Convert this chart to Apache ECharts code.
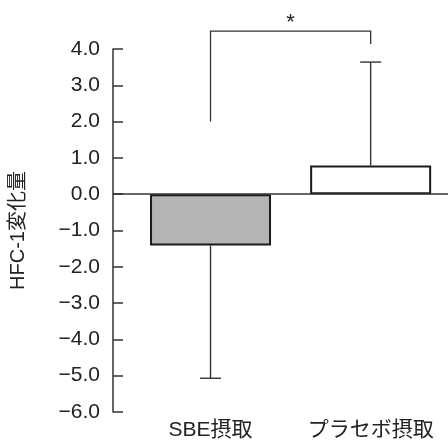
<!DOCTYPE html>
<html>
<head>
<meta charset="utf-8">
<script src="https://cdn.jsdelivr.net/npm/echarts@6/dist/echarts.min.js"></script>
<style>
html,body{margin:0;padding:0;background:#fff;}
#chart{width:448px;height:441px;}
</style>
</head>
<body>
<div id="chart"></div>
<script>
// ---- data ----
var categories = ['SBE摂取', 'プラセボ摂取'];
var categoryPos = [1, 2];
var means = [-1.41, 0.79];
var errorEnds = [-5.07, 3.64];
var barColors = ['#b4b4b4', '#ffffff'];
// significance bracket: [left foot, top, right foot]
var bracketLevels = [2.0, 4.49, 4.14];
var sigLabel = '*';
var sigLabelLevel = 4.72;
var yName = 'HFC-1変化量';

var FONT = '"Liberation Sans", "Noto Sans CJK JP", sans-serif';
var INK = '#222';

var chart = echarts.init(document.getElementById('chart'), null, {renderer: 'canvas'});

var barData = categoryPos.map(function (x, i) {
  return {value: [x, means[i]], itemStyle: {color: barColors[i]}};
});
var errData = categoryPos.map(function (x, i) { return [x, means[i], errorEnds[i]]; });

var option = {
  animation: false,
  backgroundColor: '#fff',
  grid: {left: 108, right: 0, top: 49, bottom: 28, containLabel: false},
  xAxis: {
    type: 'value',
    min: 0.391,
    max: 2.483,
    position: 'bottom',
    axisLine: {show: false, onZero: false},
    axisTick: {show: false},
    splitLine: {show: false},
    axisLabel: {
      customValues: categoryPos,
      formatter: function (v) {
        var i = categoryPos.indexOf(Math.round(v));
        return i >= 0 ? categories[i] : '';
      },
      fontFamily: FONT, fontSize: 21, color: INK, margin: 8
    }
  },
  yAxis: {
    type: 'value',
    min: -6, max: 4, interval: 1,
    name: yName,
    nameLocation: 'middle',
    nameRotate: 90,
    nameGap: 85,
    nameTextStyle: {fontFamily: FONT, fontSize: 20, color: INK},
    axisLine: {show: true, lineStyle: {color: '#333', width: 1.5}},
    axisTick: {show: true, inside: true, length: 10, lineStyle: {color: '#333', width: 1.5}},
    splitLine: {show: false},
    axisLabel: {
      fontFamily: FONT, fontSize: 21, color: INK, margin: 13,
      formatter: function (v) { return (v < 0 ? '\u2212' : '') + Math.abs(v).toFixed(1); }
    }
  },
  series: [
    {
      type: 'bar',
      data: barData,
      barWidth: 121,
      itemStyle: {borderColor: '#1a1a1a', borderWidth: 2},
      markLine: {
        silent: true,
        symbol: ['none', 'none'],
        label: {show: false},
        lineStyle: {color: '#333', width: 1.5, type: 'solid'},
        data: [{yAxis: 0}]
      }
    },
    {
      type: 'custom',
      data: errData,
      z: 3,
      renderItem: function (params, api) {
        var x = api.value(0);
        var p0 = api.coord([x, api.value(1)]);
        var p1 = api.coord([x, api.value(2)]);
        var cap = 10.5;
        var st = {stroke: '#333', lineWidth: 1.4};
        return {type: 'group', children: [
          {type: 'line', shape: {x1: p0[0], y1: p0[1], x2: p1[0], y2: p1[1]}, style: st},
          {type: 'line', shape: {x1: p1[0] - cap, y1: p1[1], x2: p1[0] + cap, y2: p1[1]}, style: st}
        ]};
      }
    },
    {
      type: 'custom',
      data: [[categoryPos[0], categoryPos[1], bracketLevels[0], bracketLevels[1], bracketLevels[2], sigLabelLevel]],
      clip: false,
      z: 3,
      renderItem: function (params, api) {
        var xl = api.value(0), xr = api.value(1);
        var a = api.coord([xl, api.value(2)]);
        var b = api.coord([xl, api.value(3)]);
        var c = api.coord([xr, api.value(3)]);
        var d = api.coord([xr, api.value(4)]);
        var t = api.coord([(xl + xr) / 2, api.value(5)]);
        return {type: 'group', children: [
          {type: 'polyline', shape: {points: [a, b, c, d]}, style: {stroke: '#333', lineWidth: 1.3, fill: null}},
          {type: 'text', x: t[0], y: t[1], style: {text: sigLabel, fontFamily: FONT, fontSize: 22, fill: INK, align: 'center', verticalAlign: 'middle'}}
        ]};
      }
    }
  ]
};
chart.setOption(option);
</script>
</body>
</html>
